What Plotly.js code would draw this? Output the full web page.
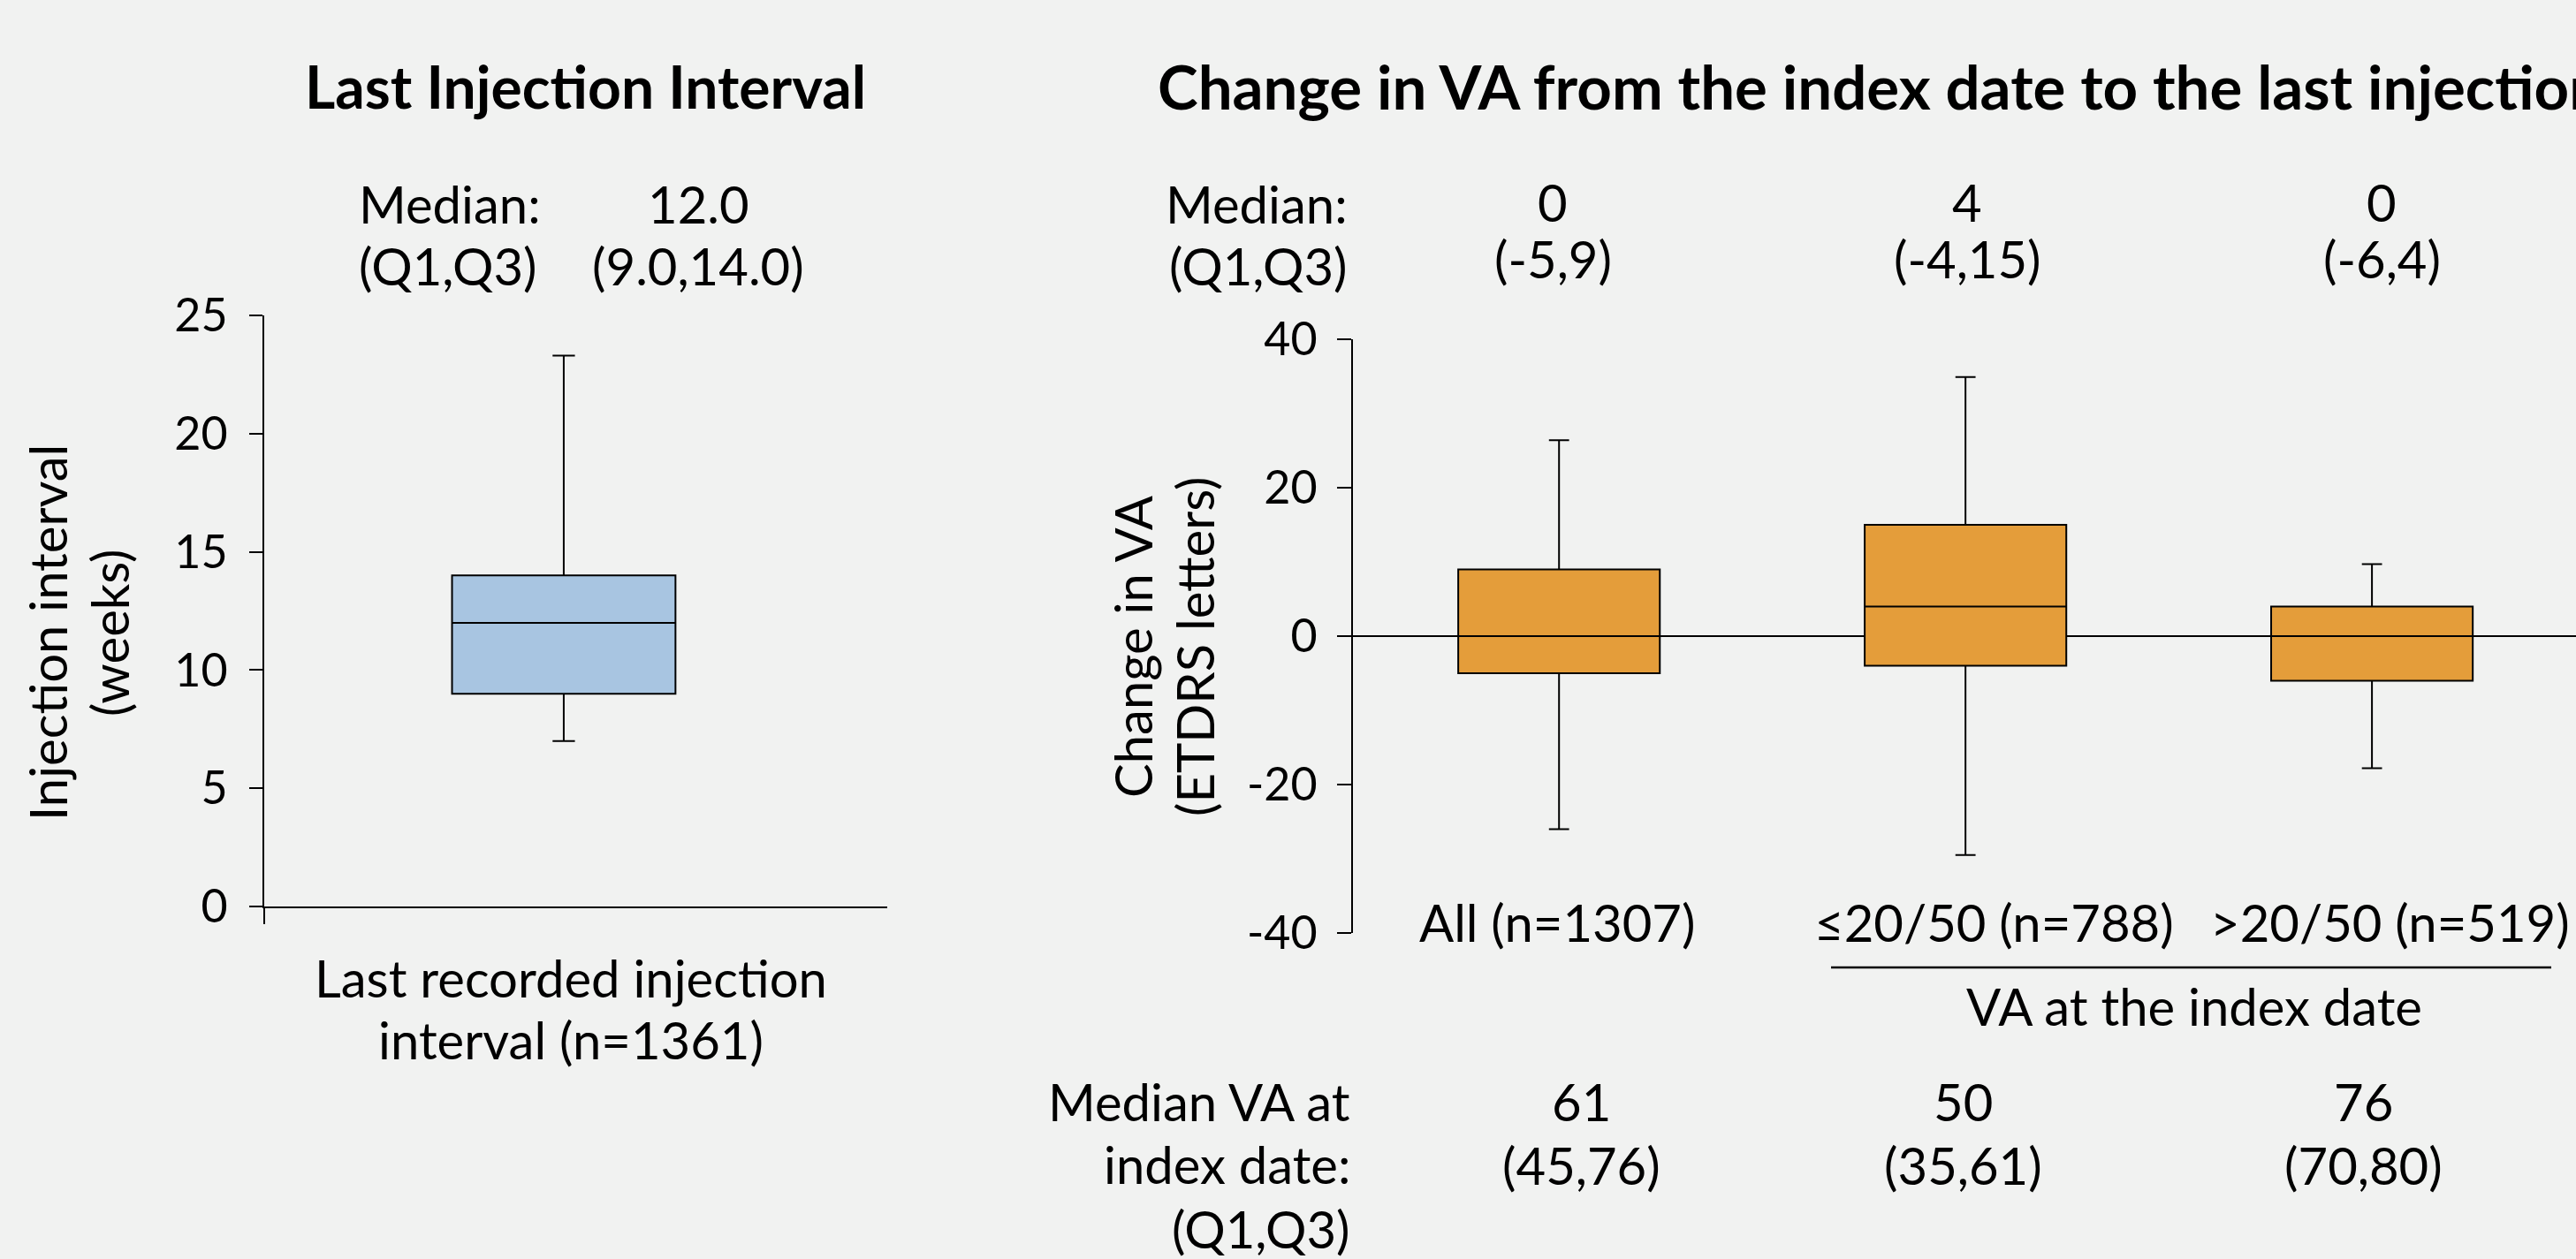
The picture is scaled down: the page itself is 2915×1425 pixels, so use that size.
<!DOCTYPE html>
<html>
<head>
<meta charset="utf-8">
<script src="https://cdn.plot.ly/plotly-3.0.1.min.js"></script>
<style>
  html, body { margin: 0; padding: 0; overflow: hidden; background: #F1F2F1; }
  #chart { width: 2915px; height: 1425px; }
</style>
</head>
<body>
<div id="chart"></div>
<script>
// ---------------- Data ----------------
const leftTitle = 'Last Injection Interval';
const rightTitle = 'Change in VA from the index date to the last injection';

const intervalCategory = ['Last recorded injection', 'interval (n=1361)'];
const intervalQ1 = [9.0];
const intervalMedian = [12.0];
const intervalQ3 = [14.0];
const intervalLower = [7.0];
const intervalUpper = [23.3];
const intervalTicks = [0, 5, 10, 15, 20, 25];

const vaCategories = ['All (n=1307)', '\u226420/50 (n=788)', '>20/50 (n=519)'];
const vaQ1 = [-5, -4, -6];
const vaMedian = [0, 4, 0];
const vaQ3 = [9, 15, 4];
const vaLower = [-26, -29.5, -17.8];
const vaUpper = [26.4, 34.9, 9.7];
const vaTicks = [-40, -20, 0, 20, 40];
const vaTickText = vaTicks.map(v => String(v));

const baselineMedian = [61, 50, 76];
const baselineQ1 = [45, 35, 70];
const baselineQ3 = [76, 61, 80];

const groupLabel = 'VA at the index date';

// ---------------- Layout helpers ----------------
const W = 2915, H = 1425;
const X = px => px / W;
const Y = py => 1 - py / H;
const FONT = 'Lato, "Noto Sans", sans-serif';
const BODY = 58, TICK = 52, TITLE = 66;

const annotations = [];
function txt(text, x, y, opts) {
  annotations.push(Object.assign({
    text: text, x: x, y: y, xref: 'paper', yref: 'paper',
    xanchor: 'center', yanchor: 'middle', showarrow: false,
    font: { family: FONT, size: BODY, color: '#000' }
  }, opts || {}));
}

// Titles
txt('<b>' + leftTitle + '</b>', X(662), Y(98), { font: { family: FONT, size: TITLE, color: '#000' } });
txt('<b>' + rightTitle + '</b>', X(1308), Y(98), { xanchor: 'left', font: { family: FONT, size: 69, color: '#000' } });

// Left panel stats
txt('Median:', X(404), Y(230), { xanchor: 'left' });
txt('(Q1,Q3)', X(404), Y(300), { xanchor: 'left' });
txt(intervalMedian[0].toFixed(1), X(790), Y(230));
txt('(' + intervalQ1[0].toFixed(1) + ',' + intervalQ3[0].toFixed(1) + ')', X(790), Y(300));

// Left axis title (two rotated lines)
txt('Injection interval', X(53), Y(716), { textangle: -90 });
txt('(weeks)', X(123), Y(716), { textangle: -90 });

// Left category label
txt(intervalCategory[0], X(646), Y(1106));
txt(intervalCategory[1], X(646), Y(1176));

// Right panel stats header
txt('Median:', X(1527), Y(230), { xanchor: 'right' });
txt('(Q1,Q3)', X(1527), Y(300), { xanchor: 'right' });
const medShift = [-7, 2, 11];
const catShift = [-2, 32, 20];
const baseShift = [25, -3, -10];
vaCategories.forEach((c, i) => {
  txt(String(vaMedian[i]), i, Y(228), { xref: 'x2', xshift: medShift[i] });
  txt('(' + vaQ1[i] + ',' + vaQ3[i] + ')', i, Y(292), { xref: 'x2', xshift: medShift[i] });
  txt(c, i, Y(1043), { xref: 'x2', xshift: catShift[i] });
  txt(String(baselineMedian[i]), i, Y(1246), { xref: 'x2', xshift: baseShift[i] });
  txt('(' + baselineQ1[i] + ',' + baselineQ3[i] + ')', i, Y(1318), { xref: 'x2', xshift: baseShift[i] });
});
txt(groupLabel, X(2483), Y(1138));

// Right axis title
txt('Change in VA', X(1282), Y(732), { textangle: -90 });
txt('(ETDRS letters)', X(1352), Y(732), { textangle: -90 });

// Bottom row header
txt('Median VA at', X(1530), Y(1246), { xanchor: 'right' });
txt('index date:', X(1530), Y(1317), { xanchor: 'right' });
txt('(Q1,Q3)', X(1530), Y(1390), { xanchor: 'right' });

// ---------------- Traces ----------------
const leftBox = {
  type: 'box', x: [0],
  q1: intervalQ1, median: intervalMedian, q3: intervalQ3,
  lowerfence: intervalLower, upperfence: intervalUpper,
  width: 0.746, whiskerwidth: 0.1,
  fillcolor: '#A8C5E1', line: { color: '#000', width: 2 },
  boxpoints: false, hoverinfo: 'skip', showlegend: false,
  xaxis: 'x', yaxis: 'y'
};
const rightBox = {
  type: 'box', x: [0, 1, 2],
  q1: vaQ1, median: vaMedian, q3: vaQ3,
  lowerfence: vaLower, upperfence: vaUpper,
  width: 0.496, whiskerwidth: 0.1,
  fillcolor: '#E49D3A', line: { color: '#000', width: 2 },
  boxpoints: false, hoverinfo: 'skip', showlegend: false,
  xaxis: 'x2', yaxis: 'y2'
};

const axisCommon = {
  showgrid: false, fixedrange: true, color: '#000',
  linecolor: '#000', linewidth: 2, tickcolor: '#000', tickwidth: 2
};

const layout = {
  width: W, height: H,
  margin: { l: 0, r: 0, t: 0, b: 0 },
  paper_bgcolor: '#F1F2F1', plot_bgcolor: 'rgba(0,0,0,0)',
  showlegend: false,
  font: { family: FONT, size: BODY, color: '#000' },
  xaxis: Object.assign({}, axisCommon, {
    domain: [X(299), X(1004)], range: [-1, 1.08],
    showline: true, zeroline: false,
    ticks: 'outside', ticklen: 18, tickmode: 'array', tickvals: [-1],
    showticklabels: false, anchor: 'y'
  }),
  yaxis: Object.assign({}, axisCommon, {
    domain: [Y(1026), Y(357)], range: [0, 25],
    showline: true, zeroline: false,
    ticks: 'outside', ticklen: 15, tickmode: 'array', tickvals: intervalTicks,
    tickfont: { family: FONT, size: TICK, color: '#000' },
    ticklabelstandoff: 14, anchor: 'x'
  }),
  xaxis2: Object.assign({}, axisCommon, {
    domain: [X(1531), 1], range: [-0.507, 2.502],
    showline: false, zeroline: false, ticks: '', showticklabels: false, anchor: 'y2'
  }),
  yaxis2: Object.assign({}, axisCommon, {
    domain: [Y(1056), Y(384)], range: [-40, 40],
    showline: true, zeroline: true, zerolinecolor: '#000', zerolinewidth: 2,
    ticks: 'outside', ticklen: 16, tickmode: 'array', tickvals: vaTicks, ticktext: vaTickText,
    tickfont: { family: FONT, size: TICK, color: '#000' },
    ticklabelstandoff: 12, anchor: 'x2'
  }),
  shapes: [{
    type: 'line', xref: 'paper', yref: 'paper',
    x0: X(2072), x1: X(2887), y0: Y(1095), y1: Y(1095),
    line: { color: '#000', width: 2.5 }
  }],
  annotations: annotations
};

Plotly.newPlot('chart', [leftBox, rightBox], layout, { displayModeBar: false, staticPlot: true });
</script>
</body>
</html>
